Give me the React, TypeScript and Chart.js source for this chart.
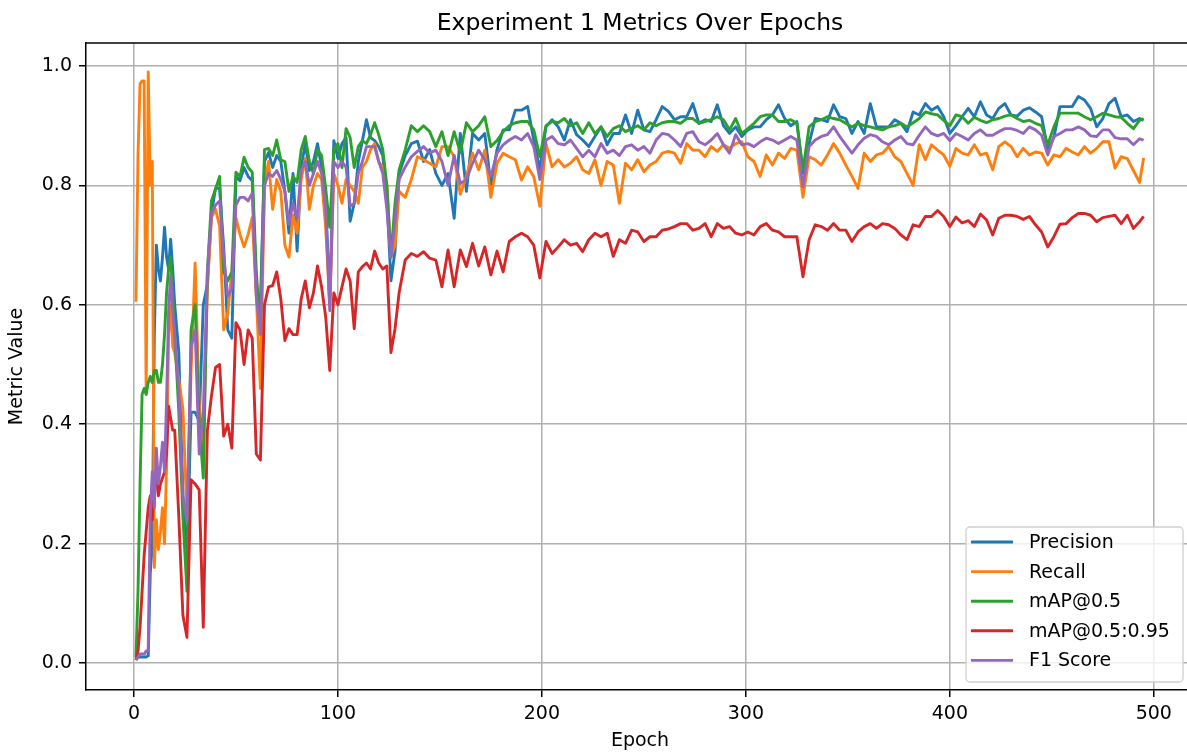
import React, { useEffect, useRef } from 'react';
import { Chart, registerables } from 'chart.js';

Chart.register(...registerables);

const chartTitle = 'Experiment 1 Metrics Over Epochs';
const xAxisTitle = 'Epoch';
const yAxisTitle = 'Metric Value';
const xTicks = [0, 100, 200, 300, 400, 500];
const yTicks = [0, 0.2, 0.4, 0.6, 0.8, 1.0];
const seriesLabels = ['Precision', 'Recall', 'mAP@0.5', 'mAP@0.5:0.95', 'F1 Score'];
const seriesColors = ['#1f77b4', '#ff7f0e', '#2ca02c', '#d62728', '#9467bd'];

const epochs = [
  1, 2, 3, 4, 5, 6, 7, 8, 9, 10, 11, 12, 13, 14, 15, 16, 17, 18, 19, 20,
  22, 24, 26, 28, 30, 32, 34, 36, 38, 40, 42, 44, 46, 48, 50, 52, 54, 56, 58, 60,
  62, 64, 66, 68, 70, 72, 74, 76, 78, 80, 82, 84, 86, 88, 90, 92, 94, 96, 98, 100,
  102, 104, 106, 108, 110, 112, 114, 116, 118, 120, 122, 124, 126, 128, 130,
  133, 136, 139, 142, 145, 148, 151, 154, 157, 160, 163, 166, 169, 172, 175, 178, 181, 184, 187, 190,
  193, 196, 199, 202, 205, 208, 211, 214, 217, 220, 223, 226, 229, 232, 235, 238, 241, 244, 247, 250,
  253, 256, 259,
  262, 265, 268, 271, 274, 277, 280, 283, 286, 289, 292, 295, 298, 301, 304, 307, 310, 313, 316, 319,
  322, 325, 328, 331, 334, 337, 340, 343, 346, 349, 352, 355, 358, 361, 364, 367, 370, 373, 376, 379,
  382, 385, 388, 391, 394, 397, 400, 403, 406, 409, 412, 415, 418, 421, 424, 427, 430, 433, 436, 439,
  442, 445, 448, 451, 454, 457, 460, 463, 466, 469, 472, 475, 478, 481, 484, 487, 490, 493, 495,
];

const precision = [
  0.005, 0.01, 0.01, 0.01, 0.01, 0.01, 0.012, 0.15, 0.2, 0.55, 0.7, 0.66, 0.64, 0.68, 0.73, 0.68, 0.66, 0.71, 0.66, 0.6,
  0.52, 0.28, 0.175, 0.42, 0.42, 0.405, 0.6, 0.634, 0.753, 0.795, 0.795, 0.697, 0.558, 0.544, 0.815, 0.808, 0.83, 0.815, 0.808, 0.627,
  0.6, 0.84, 0.855, 0.83, 0.85, 0.84, 0.79, 0.72, 0.82, 0.69, 0.83, 0.87, 0.825, 0.84, 0.87, 0.83, 0.78, 0.6, 0.875, 0.845,
  0.87, 0.88, 0.74, 0.77, 0.84, 0.875, 0.91, 0.88, 0.875, 0.865, 0.85, 0.78, 0.64, 0.69, 0.82,
  0.85, 0.87, 0.874, 0.84, 0.86, 0.82, 0.8, 0.82, 0.745, 0.887, 0.79, 0.887, 0.876, 0.887, 0.8, 0.86, 0.893, 0.893, 0.926, 0.926,
  0.932, 0.876, 0.826, 0.898, 0.91, 0.898, 0.876, 0.91, 0.885, 0.876, 0.865, 0.882, 0.898, 0.868, 0.887, 0.887, 0.918, 0.887, 0.926, 0.893,
  0.89, 0.91, 0.932,
  0.924, 0.91, 0.915, 0.915, 0.937, 0.904, 0.91, 0.907, 0.935, 0.9, 0.887, 0.898, 0.882, 0.893, 0.898, 0.898, 0.91, 0.918, 0.935, 0.912,
  0.9, 0.907, 0.82, 0.87, 0.912, 0.91, 0.907, 0.935, 0.915, 0.912, 0.887, 0.907, 0.887, 0.937, 0.898, 0.898, 0.898, 0.91, 0.904, 0.89,
  0.923, 0.918, 0.937, 0.926, 0.932, 0.915, 0.887, 0.9, 0.915, 0.929, 0.915, 0.94, 0.918, 0.912, 0.929, 0.937, 0.918, 0.916, 0.926, 0.93,
  0.923, 0.915, 0.86, 0.88, 0.932, 0.932, 0.932, 0.949, 0.943, 0.929, 0.898, 0.912, 0.937, 0.946, 0.915, 0.918, 0.907, 0.912, 0.909,
];

const recall = [
  0.605, 0.85, 0.97, 0.975, 0.975, 0.45, 0.99, 0.8, 0.84, 0.16, 0.24, 0.19, 0.22, 0.26, 0.2, 0.33, 0.55, 0.6, 0.53, 0.52,
  0.474, 0.426, 0.245, 0.488, 0.67, 0.433, 0.363, 0.627, 0.746, 0.76, 0.732, 0.558, 0.586, 0.655, 0.746, 0.718, 0.697, 0.718, 0.746, 0.614,
  0.46, 0.8, 0.84, 0.76, 0.81, 0.79, 0.7, 0.68, 0.75, 0.72, 0.81, 0.845, 0.76, 0.8, 0.82, 0.81, 0.73, 0.6, 0.82, 0.8,
  0.77, 0.81, 0.8, 0.79, 0.77, 0.83, 0.84, 0.86, 0.87, 0.84, 0.83, 0.8, 0.68, 0.7, 0.79,
  0.78, 0.81, 0.848, 0.843, 0.837, 0.831, 0.865, 0.865, 0.848, 0.785, 0.815, 0.854, 0.826, 0.859, 0.78, 0.837, 0.854, 0.848, 0.843, 0.809,
  0.831, 0.815, 0.765, 0.87, 0.831, 0.843, 0.831, 0.837, 0.848, 0.826, 0.82, 0.843, 0.8, 0.84, 0.834, 0.77, 0.837, 0.826, 0.843, 0.823,
  0.834, 0.84, 0.854,
  0.857, 0.854, 0.837, 0.87, 0.859, 0.859, 0.848, 0.865, 0.857, 0.868, 0.862, 0.87, 0.873, 0.848, 0.84, 0.815, 0.851, 0.834, 0.854, 0.845,
  0.862, 0.859, 0.78, 0.848, 0.843, 0.834, 0.851, 0.87, 0.854, 0.834, 0.815, 0.795, 0.854, 0.84, 0.851, 0.854, 0.865, 0.848, 0.84, 0.82,
  0.8, 0.868, 0.843, 0.868, 0.859, 0.851, 0.832, 0.862, 0.854, 0.851, 0.868, 0.851, 0.854, 0.826, 0.865, 0.873, 0.865, 0.848, 0.862, 0.851,
  0.856, 0.854, 0.834, 0.851, 0.848, 0.862, 0.856, 0.851, 0.865, 0.854, 0.862, 0.873, 0.873, 0.829, 0.848, 0.845, 0.825, 0.805, 0.846,
];

const map50 = [
  0.01, 0.12, 0.3, 0.45, 0.46, 0.45, 0.47, 0.48, 0.47, 0.49, 0.49, 0.47, 0.47, 0.5, 0.55, 0.62, 0.66, 0.68, 0.62, 0.55,
  0.42, 0.245, 0.12, 0.558, 0.6, 0.405, 0.31, 0.655, 0.774, 0.794, 0.815, 0.655, 0.64, 0.655, 0.822, 0.815, 0.847, 0.83, 0.822, 0.655,
  0.56, 0.86, 0.862, 0.85, 0.876, 0.843, 0.84, 0.79, 0.815, 0.805, 0.86, 0.882, 0.84, 0.82, 0.86, 0.85, 0.795, 0.73, 0.86, 0.87,
  0.83, 0.895, 0.88, 0.83, 0.865, 0.875, 0.87, 0.885, 0.905, 0.885, 0.86, 0.8, 0.68, 0.77, 0.826,
  0.86, 0.9, 0.89, 0.9, 0.89, 0.865, 0.89, 0.85, 0.89, 0.855, 0.905, 0.89, 0.9, 0.915, 0.865, 0.875, 0.89, 0.9, 0.905, 0.907,
  0.907, 0.893, 0.848, 0.9, 0.907, 0.905, 0.912, 0.9, 0.905, 0.887, 0.905, 0.887, 0.898, 0.882, 0.895, 0.9, 0.89, 0.895, 0.9, 0.893,
  0.905, 0.9, 0.905,
  0.907, 0.907, 0.904, 0.912, 0.912, 0.904, 0.907, 0.91, 0.915, 0.91, 0.893, 0.912, 0.887, 0.895, 0.904, 0.915, 0.918, 0.918, 0.907, 0.907,
  0.91, 0.904, 0.826, 0.898, 0.907, 0.91, 0.915, 0.912, 0.91, 0.904, 0.898, 0.904, 0.9, 0.898, 0.895, 0.893, 0.898, 0.9, 0.904, 0.898,
  0.905, 0.912, 0.923, 0.92, 0.918, 0.909, 0.9, 0.918, 0.915, 0.904, 0.914, 0.909, 0.905, 0.91, 0.912, 0.916, 0.918, 0.912, 0.907, 0.909,
  0.904, 0.9, 0.868, 0.898, 0.921, 0.921, 0.921, 0.921, 0.915, 0.91, 0.915, 0.921, 0.918, 0.915, 0.914, 0.904, 0.895, 0.909, 0.912,
];

const map5095 = [
  0.005, 0.02, 0.06, 0.12, 0.18, 0.22, 0.26, 0.28, 0.24, 0.3, 0.31, 0.28, 0.3, 0.31, 0.32, 0.35, 0.43, 0.41, 0.39, 0.39,
  0.245, 0.08, 0.043, 0.307, 0.3, 0.29, 0.06, 0.39, 0.447, 0.495, 0.5, 0.38, 0.4, 0.36, 0.57, 0.558, 0.5, 0.558, 0.544, 0.35,
  0.34, 0.6, 0.63, 0.632, 0.655, 0.61, 0.54, 0.56, 0.55, 0.55, 0.61, 0.64, 0.595, 0.62, 0.665, 0.63, 0.58, 0.49, 0.62, 0.6,
  0.63, 0.66, 0.64, 0.56, 0.655, 0.664, 0.67, 0.66, 0.69, 0.67, 0.66, 0.665, 0.52, 0.56, 0.62,
  0.675, 0.686, 0.681, 0.689, 0.678, 0.675, 0.63, 0.692, 0.63, 0.692, 0.664, 0.703, 0.665, 0.697, 0.65, 0.69, 0.655, 0.706, 0.714, 0.72,
  0.714, 0.7, 0.645, 0.706, 0.686, 0.697, 0.709, 0.7, 0.703, 0.689, 0.709, 0.72, 0.714, 0.72, 0.681, 0.709, 0.703, 0.725, 0.722, 0.706,
  0.714, 0.714, 0.725,
  0.727, 0.731, 0.736, 0.736, 0.725, 0.728, 0.736, 0.714, 0.736, 0.728, 0.731, 0.72, 0.717, 0.722, 0.717, 0.731, 0.736, 0.725, 0.722, 0.714,
  0.714, 0.714, 0.647, 0.709, 0.734, 0.731, 0.725, 0.736, 0.725, 0.725, 0.706, 0.722, 0.731, 0.736, 0.728, 0.736, 0.734, 0.728, 0.717, 0.709,
  0.734, 0.731, 0.748, 0.748, 0.758, 0.748, 0.731, 0.747, 0.737, 0.741, 0.731, 0.752, 0.742, 0.717, 0.745, 0.75, 0.75, 0.748, 0.743, 0.748,
  0.734, 0.722, 0.697, 0.714, 0.735, 0.736, 0.746, 0.753, 0.753, 0.75, 0.739, 0.746, 0.748, 0.75, 0.736, 0.75, 0.728, 0.739, 0.748,
];

const f1Score = [
  0.005, 0.01, 0.015, 0.015, 0.015, 0.02, 0.02, 0.25, 0.32, 0.26, 0.36, 0.3, 0.33, 0.37, 0.32, 0.44, 0.59, 0.65, 0.59, 0.55,
  0.454, 0.28, 0.238, 0.53, 0.558, 0.35, 0.42, 0.655, 0.753, 0.767, 0.774, 0.683, 0.614, 0.627, 0.767, 0.78, 0.78, 0.774, 0.787, 0.614,
  0.55, 0.8, 0.82, 0.815, 0.825, 0.81, 0.79, 0.735, 0.77, 0.745, 0.825, 0.84, 0.8, 0.82, 0.84, 0.82, 0.76, 0.59, 0.84, 0.83,
  0.84, 0.83, 0.765, 0.77, 0.82, 0.84, 0.865, 0.865, 0.865, 0.84, 0.82, 0.76, 0.68, 0.74, 0.81,
  0.831, 0.848, 0.857, 0.865, 0.854, 0.859, 0.84, 0.8, 0.85, 0.803, 0.81, 0.837, 0.859, 0.843, 0.815, 0.854, 0.868, 0.876, 0.882, 0.876,
  0.887, 0.865, 0.81, 0.876, 0.882, 0.87, 0.868, 0.876, 0.862, 0.848, 0.859, 0.848, 0.87, 0.854, 0.859, 0.85, 0.865, 0.868, 0.859, 0.865,
  0.854, 0.876, 0.887,
  0.885, 0.876, 0.865, 0.887, 0.89, 0.873, 0.868, 0.876, 0.887, 0.868, 0.854, 0.885, 0.868, 0.87, 0.865, 0.873, 0.879, 0.876, 0.87, 0.876,
  0.882, 0.876, 0.798, 0.865, 0.876, 0.882, 0.885, 0.898, 0.882, 0.868, 0.854, 0.868, 0.879, 0.885, 0.882, 0.873, 0.868, 0.876, 0.882, 0.87,
  0.868, 0.884, 0.898, 0.887, 0.883, 0.887, 0.875, 0.887, 0.882, 0.876, 0.887, 0.893, 0.884, 0.884, 0.89, 0.895, 0.895, 0.892, 0.887, 0.898,
  0.893, 0.884, 0.851, 0.882, 0.887, 0.893, 0.893, 0.898, 0.893, 0.883, 0.882, 0.893, 0.893, 0.88, 0.878, 0.878, 0.868, 0.878, 0.876,
];

const seriesValues = [precision, recall, map50, map5095, f1Score];

const FONT = '"DejaVu Sans", "Liberation Sans", sans-serif';

const titlePlugin = {
  id: 'mplTitle',
  afterDraw(chart: any) {
    const { ctx, chartArea } = chart;
    ctx.save();
    ctx.font = `23.5px ${FONT}`;
    ctx.fillStyle = '#000';
    ctx.textAlign = 'center';
    ctx.textBaseline = 'alphabetic';
    ctx.fillText(chartTitle, (chartArea.left + chartArea.right) / 2, 30);
    // top spine
    ctx.strokeStyle = '#000';
    ctx.lineWidth = 1.5;
    ctx.beginPath();
    ctx.moveTo(chartArea.left - 0.75, chartArea.top);
    ctx.lineTo(chartArea.right, chartArea.top);
    ctx.stroke();
    ctx.restore();
  },
};

const legendPlugin = {
  id: 'mplLegend',
  afterDatasetsDraw(chart: any) {
    const { ctx, chartArea } = chart;
    const boxW = 217;
    const boxH = 155;
    const x0 = chartArea.right - 11 - boxW;
    const y0 = chartArea.bottom - 8 - boxH;
    ctx.save();
    ctx.beginPath();
    const r = 4;
    ctx.moveTo(x0 + r, y0);
    ctx.lineTo(x0 + boxW - r, y0);
    ctx.arcTo(x0 + boxW, y0, x0 + boxW, y0 + r, r);
    ctx.lineTo(x0 + boxW, y0 + boxH - r);
    ctx.arcTo(x0 + boxW, y0 + boxH, x0 + boxW - r, y0 + boxH, r);
    ctx.lineTo(x0 + r, y0 + boxH);
    ctx.arcTo(x0, y0 + boxH, x0, y0 + boxH - r, r);
    ctx.lineTo(x0, y0 + r);
    ctx.arcTo(x0, y0, x0 + r, y0, r);
    ctx.closePath();
    ctx.fillStyle = 'rgba(255,255,255,0.8)';
    ctx.fill();
    ctx.strokeStyle = '#d0d0d0';
    ctx.lineWidth = 1.3;
    ctx.stroke();
    chart.data.datasets.forEach((ds: any, i: number) => {
      const cy = y0 + 15 + i * 29.6;
      ctx.strokeStyle = ds.borderColor;
      ctx.lineWidth = 2.9;
      ctx.beginPath();
      ctx.moveTo(x0 + 5, cy);
      ctx.lineTo(x0 + 47, cy);
      ctx.stroke();
      ctx.fillStyle = '#000';
      ctx.font = `19px ${FONT}`;
      ctx.textAlign = 'left';
      ctx.textBaseline = 'middle';
      ctx.fillText(ds.label, x0 + 63, cy + 1);
    });
    ctx.restore();
  },
};

export default function App() {
  const canvasRef = useRef<HTMLCanvasElement | null>(null);

  useEffect(() => {
    const canvas = canvasRef.current;
    if (!canvas) return;
    const datasets = seriesLabels.map((label, i) => ({
      label,
      data: epochs.map((e, j) => ({ x: e, y: seriesValues[i][j] })),
      borderColor: seriesColors[i],
      backgroundColor: seriesColors[i],
      borderWidth: 2.9,
      pointRadius: 0,
      tension: 0,
      fill: false,
      order: seriesLabels.length - 1 - i,
      borderJoinStyle: 'round' as const,
    }));
    const chart = new Chart(canvas, {
      type: 'line',
      data: { datasets },
      options: {
        animation: false,
        responsive: false,
        devicePixelRatio: 1,
        layout: { padding: { left: 0, right: 6, top: 43, bottom: 0 } },
        plugins: {
          legend: { display: false },
          title: { display: false },
          tooltip: { enabled: false },
        },
        scales: {
          x: {
            type: 'linear',
            min: -23.5,
            max: 519.7,
            afterBuildTicks: (scale: any) => {
              scale.ticks = xTicks.map((v) => ({ value: v }));
            },
            afterFit: (scale: any) => {
              scale.height = 64;
            },
            grid: {
              color: '#b0b0b0',
              lineWidth: 1.5,
              drawTicks: true,
              tickLength: 7,
              tickColor: '#000',
              tickWidth: 1.5,
            },
            border: { display: true, color: '#000', width: 1.5 },
            ticks: {
              color: '#000',
              font: { family: FONT, size: 19 },
              padding: 6,
              maxRotation: 0,
              autoSkip: false,
              callback: (v: any) => String(v),
            },
            title: {
              display: true,
              text: xAxisTitle,
              color: '#000',
              font: { family: FONT, size: 19 },
              padding: { top: 0, bottom: 2 },
            },
          },
          y: {
            type: 'linear',
            min: -0.0452,
            max: 1.0385,
            afterBuildTicks: (scale: any) => {
              scale.ticks = yTicks.map((v) => ({ value: v }));
            },
            afterFit: (scale: any) => {
              scale.width = 86;
            },
            grid: {
              color: '#b0b0b0',
              lineWidth: 1.5,
              drawTicks: true,
              tickLength: 7,
              tickColor: '#000',
              tickWidth: 1.5,
            },
            border: { display: true, color: '#000', width: 1.5 },
            ticks: {
              color: '#000',
              font: { family: FONT, size: 19 },
              padding: 7,
              autoSkip: false,
              callback: (v: any) => Number(v).toFixed(1),
            },
            title: {
              display: true,
              text: yAxisTitle,
              color: '#000',
              font: { family: FONT, size: 19 },
              padding: { top: 6, bottom: 0 },
            },
          },
        },
      } as any,
      plugins: [legendPlugin, titlePlugin],
    });
    return () => chart.destroy();
  }, []);

  return (
    <div
      style={{
        position: 'fixed',
        left: 0,
        top: 0,
        width: 1187,
        height: 754,
        overflow: 'hidden',
        background: '#fff',
      }}
    >
      <canvas ref={canvasRef} width={1200} height={754} style={{ display: 'block' }} />
    </div>
  );
}
